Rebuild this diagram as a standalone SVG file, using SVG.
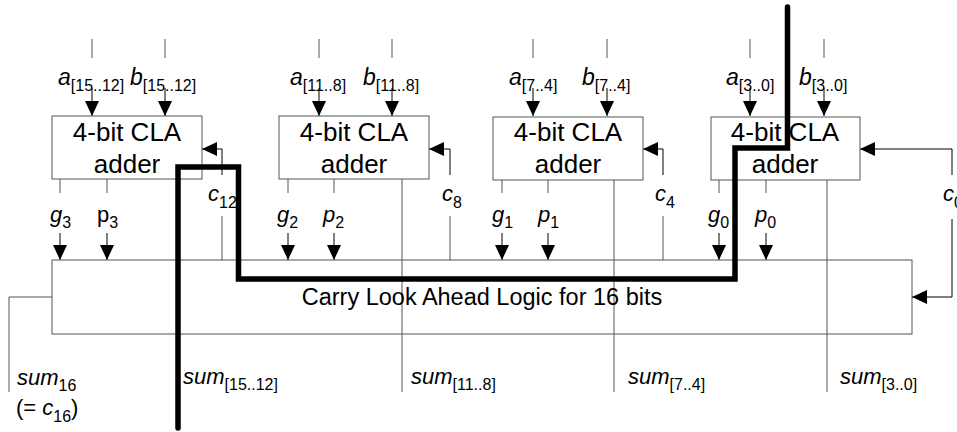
<svg xmlns="http://www.w3.org/2000/svg" width="957" height="432" viewBox="0 0 957 432">
<style>
text{font-family:"Liberation Sans",Arial,sans-serif;fill:#000}
.bt{font-size:26px;text-anchor:middle}
.lb{font-size:22px;font-style:italic}
.ab{font-size:23px;font-style:italic}
.up{font-style:normal}
.sb{font-size:16px;font-style:normal}
.thin{stroke:#555;stroke-width:1;fill:none}
.arr{stroke:#000;stroke-width:1;fill:none;marker-end:url(#ah)}
.box{fill:#fff;stroke:#555;stroke-width:1}
</style>
<defs>
<marker id="ah" viewBox="0 0 15 14" refX="15" refY="7" markerWidth="15" markerHeight="14" orient="auto" markerUnits="userSpaceOnUse">
<path d="M0,0 L15,7 L0,14 z" fill="#000"/>
</marker>
</defs>
<rect width="957" height="432" fill="#fff"/>

<g id="connectors">
<path class="thin" d="M92,39V58 M165,39V58 M319,39V58 M392,39V58 M533,39V58 M607,39V58 M750,39V58 M824,39V58"/>
<path class="arr" d="M92,88V116"/><path class="arr" d="M165,88V116"/>
<path class="arr" d="M319,88V116"/><path class="arr" d="M392,88V116"/>
<path class="arr" d="M533,88V116"/><path class="arr" d="M607,88V116"/>
<path class="arr" d="M750,88V116"/><path class="arr" d="M824,88V116"/>
<path class="thin" d="M60,179V193 M107,179V193 M288,179V193 M334,179V193 M502,179V193 M548,179V193 M719,179V193 M766,179V193"/>
<path class="arr" d="M60,233V260"/><path class="arr" d="M107,233V260"/>
<path class="arr" d="M288,233V260"/><path class="arr" d="M334,233V260"/>
<path class="arr" d="M502,233V260"/><path class="arr" d="M548,233V260"/>
<path class="arr" d="M719,233V260"/><path class="arr" d="M766,233V260"/>
<path class="arr" d="M222,175V149H202"/>
<path class="arr" d="M450,175V149H429"/>
<path class="arr" d="M663,175V149H643"/>
<path class="arr" d="M952,175V149H860"/>
<path class="thin" d="M222,216V260 M450,216V260 M663,216V260"/>
<path class="arr" d="M952,219V297H912"/>
<path class="thin" d="M178,179V392 M402,179V392 M614,179V392 M827,179V392"/>
<path class="thin" d="M52,297H9V392"/>
</g>

<g id="cla-logic">
<rect class="box" x="52" y="260" width="860" height="74" fill-opacity="0"/>
<text x="482" y="305" style="font-size:23.5px;text-anchor:middle">Carry Look Ahead Logic for 16 bits</text>
</g>

<g id="adder3">
<rect class="box" x="52" y="116" width="150" height="63"/>
<text class="bt" x="127" y="141">4-bit CLA</text>
<text class="bt" x="127" y="173">adder</text>
</g>
<g id="adder2">
<rect class="box" x="279" y="116" width="150" height="63"/>
<text class="bt" x="354" y="141">4-bit CLA</text>
<text class="bt" x="354" y="173">adder</text>
</g>
<g id="adder1">
<rect class="box" x="493" y="117" width="150" height="63"/>
<text class="bt" x="568" y="141">4-bit CLA</text>
<text class="bt" x="568" y="173">adder</text>
</g>
<g id="adder0">
<rect class="box" x="711" y="117" width="149" height="63"/>
<text class="bt" x="785" y="141">4-bit CLA</text>
<text class="bt" x="785" y="173">adder</text>
</g>

<g id="labels">
<text class="ab" x="58" y="85">a<tspan class="sb" dy="6">[15..12]</tspan></text>
<text class="ab" x="130" y="85">b<tspan class="sb" dy="6">[15..12]</tspan></text>
<text class="ab" x="290" y="85">a<tspan class="sb" dy="6">[11..8]</tspan></text>
<text class="ab" x="363" y="85">b<tspan class="sb" dy="6">[11..8]</tspan></text>
<text class="ab" x="509" y="85">a<tspan class="sb" dy="6">[7..4]</tspan></text>
<text class="ab" x="582" y="85">b<tspan class="sb" dy="6">[7..4]</tspan></text>
<text class="ab" x="726" y="85">a<tspan class="sb" dy="6">[3..0]</tspan></text>
<text class="ab" x="799" y="85">b<tspan class="sb" dy="6">[3..0]</tspan></text>

<text class="lb" x="50" y="222">g<tspan class="sb" dy="6">3</tspan></text>
<text class="lb up" x="97" y="222">p<tspan class="sb" dy="6">3</tspan></text>
<text class="lb" x="208" y="201">c<tspan class="sb" dy="7">12</tspan></text>
<text class="lb" x="277" y="222">g<tspan class="sb" dy="6">2</tspan></text>
<text class="lb" x="323" y="222">p<tspan class="sb" dy="6">2</tspan></text>
<text class="lb" x="442" y="201">c<tspan class="sb" dy="7">8</tspan></text>
<text class="lb" x="492" y="222">g<tspan class="sb" dy="6">1</tspan></text>
<text class="lb" x="538" y="222">p<tspan class="sb" dy="6">1</tspan></text>
<text class="lb" x="655" y="201">c<tspan class="sb" dy="7">4</tspan></text>
<text class="lb" x="708" y="222">g<tspan class="sb" dy="6">0</tspan></text>
<text class="lb" x="755" y="222">p<tspan class="sb" dy="6">0</tspan></text>
<text class="lb" x="943" y="201">c<tspan class="sb" dy="7">0</tspan></text>

<text class="lb" x="17" y="385">sum<tspan class="sb" dy="6">16</tspan></text>
<text class="lb" x="16" y="415"><tspan class="up">(= </tspan>c<tspan class="sb" dy="7">16</tspan><tspan class="up" dy="-7">)</tspan></text>
<text class="lb" x="183" y="384">sum<tspan class="sb" dy="6">[15..12]</tspan></text>
<text class="lb" x="411" y="384">sum<tspan class="sb" dy="6">[11..8]</tspan></text>
<text class="lb" x="628" y="384">sum<tspan class="sb" dy="6">[7..4]</tspan></text>
<text class="lb" x="840" y="384">sum<tspan class="sb" dy="6">[3..0]</tspan></text>
</g>

<g id="critical-path">
<path d="M787.5,7V148H735V279H238.5V167H178V428" fill="none" stroke="#000" stroke-width="5.5" stroke-linecap="round" stroke-linejoin="miter"/>
</g>
</svg>
